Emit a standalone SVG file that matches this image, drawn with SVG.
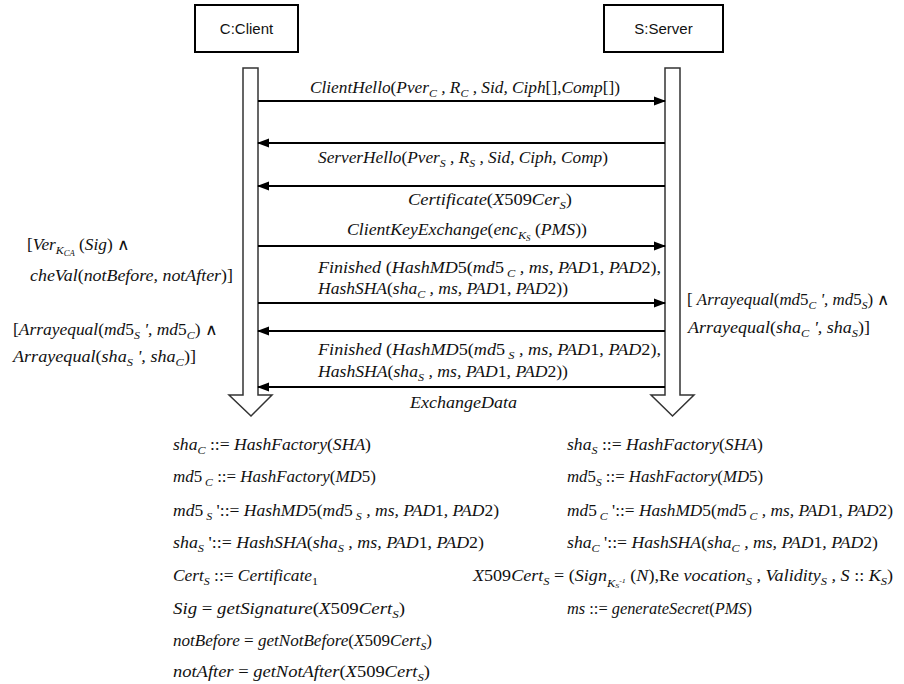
<svg xmlns="http://www.w3.org/2000/svg" width="904" height="684" viewBox="0 0 904 684">
<style>
.box{fill:#fff;stroke:#000;stroke-width:2}
.bl{font-family:"Liberation Sans",Arial,sans-serif;font-size:15px;fill:#111;text-anchor:middle}
.life{fill:#fff;stroke:#333;stroke-width:1.5}
.msg{stroke:#000;stroke-width:2;fill:none}
.t{font-family:"Liberation Serif","Times New Roman",serif;font-style:italic;font-size:16px;fill:#111}
.s{font-size:11px}
.u{font-style:normal}
</style>
<defs>
<marker id="ah" markerUnits="userSpaceOnUse" markerWidth="12" markerHeight="10" refX="11" refY="5" orient="auto">
<path d="M0,0.5 L12,5 L0,9.5 z" fill="#000"/>
</marker>
</defs>

<g id="client">
<rect class="box" x="195" y="5" width="103" height="47"/>
<text class="bl" x="246.5" y="34">C:Client</text>
<polygon class="life" points="243,68 258,68 258,395 272,395 251,416 229,395 243,395"/>
</g>
<g id="server">
<rect class="box" x="604" y="5" width="119" height="47"/>
<text class="bl" x="663.5" y="34">S:Server</text>
<polygon class="life" points="665,68 680,68 680,395 694,395 672.5,416 651,395 665,395"/>
</g>

<g id="connectors">
<line class="msg" x1="258" y1="101" x2="665" y2="101" marker-end="url(#ah)"/>
<line class="msg" x1="665" y1="143" x2="258" y2="143" marker-end="url(#ah)"/>
<line class="msg" x1="665" y1="186" x2="258" y2="186" marker-end="url(#ah)"/>
<line class="msg" x1="258" y1="246" x2="665" y2="246" marker-end="url(#ah)"/>
<line class="msg" x1="258" y1="303" x2="665" y2="303" marker-end="url(#ah)"/>
<line class="msg" x1="665" y1="331" x2="258" y2="331" marker-end="url(#ah)"/>
<line class="msg" x1="665" y1="387" x2="258" y2="387" marker-end="url(#ah)"/>
</g>

<g id="messages">
<text class="t" x="310" y="93" textLength="310" lengthAdjust="spacingAndGlyphs">ClientHello<tspan class="u">(</tspan>Pver<tspan class="s" dy="4">C</tspan><tspan dy="-4"> , R</tspan><tspan class="s" dy="4">C</tspan><tspan dy="-4"> , Sid, Ciph<tspan class="u">[],</tspan>Comp<tspan class="u">[])</tspan></tspan></text>
<text class="t" x="318" y="163" textLength="290" lengthAdjust="spacingAndGlyphs">ServerHello<tspan class="u">(</tspan>Pver<tspan class="s" dy="4">S</tspan><tspan dy="-4"> , R</tspan><tspan class="s" dy="4">S</tspan><tspan dy="-4"> , Sid, Ciph, Comp<tspan class="u">)</tspan></tspan></text>
<text class="t" x="408" y="205" textLength="164" lengthAdjust="spacingAndGlyphs">Certificate<tspan class="u">(</tspan>X<tspan class="u">509</tspan>Cer<tspan class="s" dy="4">S</tspan><tspan class="u" dy="-4">)</tspan></text>
<text class="t" x="347" y="235" textLength="240" lengthAdjust="spacingAndGlyphs">ClientKeyExchange<tspan class="u">(</tspan>enc<tspan class="s" dy="4">K<tspan font-size="8" dy="2">S</tspan></tspan><tspan dy="-6"> <tspan class="u">(</tspan>PMS<tspan class="u">))</tspan></tspan></text>
<text class="t" x="318" y="273" textLength="343" lengthAdjust="spacingAndGlyphs">Finished <tspan class="u">(</tspan>HashMD<tspan class="u">5(</tspan>md<tspan class="u">5</tspan><tspan class="s" dy="4"> C</tspan><tspan dy="-4"> , ms, PAD<tspan class="u">1</tspan>, PAD<tspan class="u">2),</tspan></tspan></text>
<text class="t" x="318" y="294" textLength="250" lengthAdjust="spacingAndGlyphs">HashSHA<tspan class="u">(</tspan>sha<tspan class="s" dy="4">C</tspan><tspan dy="-4"> , ms, PAD<tspan class="u">1</tspan>, PAD<tspan class="u">2))</tspan></tspan></text>
<text class="t" x="318" y="355" textLength="343" lengthAdjust="spacingAndGlyphs">Finished <tspan class="u">(</tspan>HashMD<tspan class="u">5(</tspan>md<tspan class="u">5</tspan><tspan class="s" dy="4"> S</tspan><tspan dy="-4"> , ms, PAD<tspan class="u">1</tspan>, PAD<tspan class="u">2),</tspan></tspan></text>
<text class="t" x="318" y="377" textLength="250" lengthAdjust="spacingAndGlyphs">HashSHA<tspan class="u">(</tspan>sha<tspan class="s" dy="4">S</tspan><tspan dy="-4"> , ms, PAD<tspan class="u">1</tspan>, PAD<tspan class="u">2))</tspan></tspan></text>
<text class="t" x="410" y="408" textLength="107" lengthAdjust="spacingAndGlyphs">ExchangeData</text>
</g>

<g id="guards">
<text class="t" x="27" y="250" textLength="103" lengthAdjust="spacingAndGlyphs"><tspan class="u">[</tspan>Ver<tspan class="s" dy="4">K<tspan font-size="8" dy="2">CA</tspan></tspan><tspan dy="-6"> <tspan class="u">(</tspan>Sig<tspan class="u">) ∧</tspan></tspan></text>
<text class="t" x="30" y="281" textLength="203" lengthAdjust="spacingAndGlyphs">cheVal<tspan class="u">(</tspan>notBefore, notAfter<tspan class="u">)]</tspan></text>
<text class="t" x="13" y="335" textLength="205" lengthAdjust="spacingAndGlyphs"><tspan class="u">[</tspan>Arrayequal<tspan class="u">(</tspan>md<tspan class="u">5</tspan><tspan class="s" dy="4">S</tspan><tspan dy="-4"> ', md<tspan class="u">5</tspan></tspan><tspan class="s" dy="4">C</tspan><tspan class="u" dy="-4">) ∧</tspan></text>
<text class="t" x="13" y="362" textLength="183" lengthAdjust="spacingAndGlyphs">Arrayequal<tspan class="u">(</tspan>sha<tspan class="s" dy="4">S</tspan><tspan dy="-4"> ', sha</tspan><tspan class="s" dy="4">C</tspan><tspan class="u" dy="-4">)]</tspan></text>
<text class="t" x="687" y="305" textLength="203" lengthAdjust="spacingAndGlyphs"><tspan class="u">[ </tspan>Arrayequal<tspan class="u">(</tspan>md<tspan class="u">5</tspan><tspan class="s" dy="4">C</tspan><tspan dy="-4"> ', md<tspan class="u">5</tspan></tspan><tspan class="s" dy="4">S</tspan><tspan class="u" dy="-4">) ∧</tspan></text>
<text class="t" x="688" y="333" textLength="182" lengthAdjust="spacingAndGlyphs">Arrayequal<tspan class="u">(</tspan>sha<tspan class="s" dy="4">C</tspan><tspan dy="-4"> ', sha</tspan><tspan class="s" dy="4">S</tspan><tspan class="u" dy="-4">)]</tspan></text>
</g>

<g id="client-defs">
<text class="t" x="173" y="450" textLength="198" lengthAdjust="spacingAndGlyphs">sha<tspan class="s" dy="4">C</tspan><tspan class="u" dy="-4"> ::= </tspan>HashFactory<tspan class="u">(</tspan>SHA<tspan class="u">)</tspan></text>
<text class="t" x="173" y="482" textLength="203" lengthAdjust="spacingAndGlyphs">md<tspan class="u">5</tspan><tspan class="s" dy="4"> C</tspan><tspan class="u" dy="-4"> ::= </tspan>HashFactory<tspan class="u">(</tspan>MD<tspan class="u">5)</tspan></text>
<text class="t" x="173" y="516" textLength="326" lengthAdjust="spacingAndGlyphs">md<tspan class="u">5</tspan><tspan class="s" dy="4"> S</tspan><tspan class="u" dy="-4"> '::= </tspan>HashMD<tspan class="u">5(</tspan>md<tspan class="u">5</tspan><tspan class="s" dy="4"> S</tspan><tspan dy="-4"> , ms, PAD<tspan class="u">1</tspan>, PAD<tspan class="u">2)</tspan></tspan></text>
<text class="t" x="173" y="548" textLength="311" lengthAdjust="spacingAndGlyphs">sha<tspan class="s" dy="4">S</tspan><tspan class="u" dy="-4"> '::= </tspan>HashSHA<tspan class="u">(</tspan>sha<tspan class="s" dy="4">S</tspan><tspan dy="-4"> , ms, PAD<tspan class="u">1</tspan>, PAD<tspan class="u">2)</tspan></tspan></text>
<text class="t" x="173" y="581" textLength="145" lengthAdjust="spacingAndGlyphs">Cert<tspan class="s" dy="4">S</tspan><tspan class="u" dy="-4"> ::= </tspan>Certificate<tspan class="s u" dy="4">1</tspan></text>
<text class="t" x="173" y="614" textLength="232" lengthAdjust="spacingAndGlyphs">Sig <tspan class="u">= </tspan>getSignature<tspan class="u">(</tspan>X<tspan class="u">509</tspan>Cert<tspan class="s" dy="4">S</tspan><tspan class="u" dy="-4">)</tspan></text>
<text class="t" x="173" y="646" textLength="259" lengthAdjust="spacingAndGlyphs">notBefore <tspan class="u">= </tspan>getNotBefore<tspan class="u">(</tspan>X<tspan class="u">509</tspan>Cert<tspan class="s" dy="4">S</tspan><tspan class="u" dy="-4">)</tspan></text>
<text class="t" x="173" y="677" textLength="257" lengthAdjust="spacingAndGlyphs">notAfter <tspan class="u">= </tspan>getNotAfter<tspan class="u">(</tspan>X<tspan class="u">509</tspan>Cert<tspan class="s" dy="4">S</tspan><tspan class="u" dy="-4">)</tspan></text>
</g>

<g id="server-defs">
<text class="t" x="567" y="450" textLength="196" lengthAdjust="spacingAndGlyphs">sha<tspan class="s" dy="4">S</tspan><tspan class="u" dy="-4"> ::= </tspan>HashFactory<tspan class="u">(</tspan>SHA<tspan class="u">)</tspan></text>
<text class="t" x="567" y="482" textLength="196" lengthAdjust="spacingAndGlyphs">md<tspan class="u">5</tspan><tspan class="s" dy="4">S</tspan><tspan class="u" dy="-4"> ::= </tspan>HashFactory<tspan class="u">(</tspan>MD<tspan class="u">5)</tspan></text>
<text class="t" x="567" y="516" textLength="326" lengthAdjust="spacingAndGlyphs">md<tspan class="u">5</tspan><tspan class="s" dy="4"> C</tspan><tspan class="u" dy="-4"> '::= </tspan>HashMD<tspan class="u">5(</tspan>md<tspan class="u">5</tspan><tspan class="s" dy="4"> C</tspan><tspan dy="-4"> , ms, PAD<tspan class="u">1</tspan>, PAD<tspan class="u">2)</tspan></tspan></text>
<text class="t" x="567" y="548" textLength="311" lengthAdjust="spacingAndGlyphs">sha<tspan class="s" dy="4">C</tspan><tspan class="u" dy="-4"> '::= </tspan>HashSHA<tspan class="u">(</tspan>sha<tspan class="s" dy="4">C</tspan><tspan dy="-4"> , ms, PAD<tspan class="u">1</tspan>, PAD<tspan class="u">2)</tspan></tspan></text>
<text class="t" x="473" y="581" textLength="420" lengthAdjust="spacingAndGlyphs">X<tspan class="u">509</tspan>Cert<tspan class="s" dy="4">S</tspan><tspan class="u" dy="-4"> = (</tspan>Sign<tspan class="s" dy="6">K<tspan font-size="7" dy="1">S</tspan><tspan font-size="7" dy="-5">-1</tspan></tspan><tspan dy="-2"> <tspan class="u">(</tspan>N<tspan class="u">),</tspan><tspan class="u">Re </tspan>vocation</tspan><tspan class="s" dy="4">S</tspan><tspan dy="-4"> , Validity</tspan><tspan class="s" dy="4">S</tspan><tspan dy="-4"> , S <tspan class="u">::</tspan> K</tspan><tspan class="s" dy="4">S</tspan><tspan class="u" dy="-4">)</tspan></text>
<text class="t" x="567" y="614" textLength="185" lengthAdjust="spacingAndGlyphs">ms <tspan class="u">::= </tspan>generateSecret<tspan class="u">(</tspan>PMS<tspan class="u">)</tspan></text>
</g>
</svg>
